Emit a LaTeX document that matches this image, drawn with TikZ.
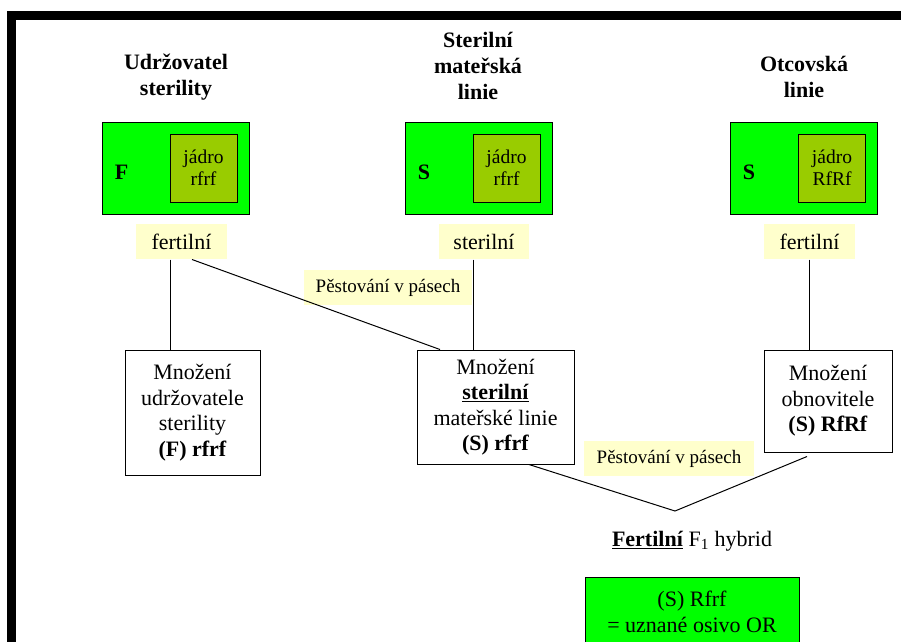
\documentclass[tikz,border=0pt]{standalone}
\usepackage{fontspec}
\setmainfont{Liberation Serif}
\usetikzlibrary{positioning,calc}
\definecolor{cyto}{HTML}{00FF00}
\definecolor{nucleus}{HTML}{99CC00}
\definecolor{tag}{HTML}{FFFFCC}

\begin{document}
\begin{tikzpicture}
  [
  x=1pt, y=-1pt,
  line width=1pt,
  font=\fontsize{22}{25.5}\selectfont,
  titlenode/.style={align=center, font=\fontsize{22}{26}\selectfont\bfseries},
  cytonode/.style={rectangle, draw=black, fill=cyto, minimum width=147pt, minimum height=92pt, inner sep=0pt},
  nucnode/.style={rectangle, draw=black, fill=nucleus, minimum width=67pt, minimum height=68pt, align=center, inner sep=0pt, font=\fontsize{19.5}{21.7}\selectfont},
  letternode/.style={font=\fontsize{22}{26}\selectfont\bfseries, inner sep=0pt},
  tagnode/.style={rectangle, fill=tag, minimum height=35pt, inner sep=0pt},
  stepnode/.style={rectangle, draw=black, align=center, inner sep=0pt},
  ]
  \useasboundingbox (0,0) rectangle (901,641);
  \draw[line width=9pt] (11.5,15.8) rectangle (930,680);

  % the three lines
  \node[titlenode] (title1) at (176,77) {Udržovatel\\sterility};
  \node[titlenode] (title2) at (478,66) {Sterilní\\mateřská\\linie};
  \node[titlenode] (title3) at (804,77) {Otcovská\\linie};

  \node[cytonode] (cyto1) at (175.5,168) {};
  \node[nucnode] (nuc1) at (203.5,168) {jádro\\rfrf};
  \node[letternode] (plasma1) at (121.7,172) {F};

  \node[cytonode] (cyto2) at (478.5,168) {};
  \node[nucnode] (nuc2) at (506.5,168) {jádro\\rfrf};
  \node[letternode] (plasma2) at (424,172) {S};

  \node[cytonode] (cyto3) at (804,168) {};
  \node[nucnode] (nuc3) at (832,168) {jádro\\RfRf};
  \node[letternode] (plasma3) at (749,172) {S};

  \node[tagnode, minimum width=91pt] (fert1) at (181.5,241.5) {fertilní};
  \node[tagnode, minimum width=90pt] (ster2) at (484,241.5) {sterilní};
  \node[tagnode, minimum width=91pt] (fert3) at (809.5,241.5) {fertilní};
  \node[tagnode, minimum width=168pt, font=\fontsize{19}{22}\selectfont] (band1) at (388,287.5) {Pěstování v pásech};

  % propagation
  \node[stepnode, minimum width=135pt, minimum height=125pt] (mult1) at (192.5,412.5)
    {Množení\\udržovatele\\sterility\\\textbf{(F) rfrf}};
  \node[stepnode, minimum width=157pt, minimum height=114pt] (mult2) at (495.5,407)
    {Množení\\\underline{\textbf{sterilní}}\\mateřské linie\\\textbf{(S) rfrf}};
  \node[stepnode, minimum width=128pt, minimum height=102pt] (mult3) at (828,401)
    {Množení\\obnovitele\\\textbf{(S) RfRf}};
  \node[tagnode, minimum width=170pt, font=\fontsize{19}{22}\selectfont] (band2) at (669,458.5) {Pěstování v pásech};

  \node (hybrid) at (692,541) {\underline{\textbf{Fertilní}} F\textsubscript{1} hybrid};
  \node[stepnode, fill=cyto, minimum width=214pt, minimum height=70pt] (seed) at (692,612)
    {(S) Rfrf\\= uznané osivo OR};

  \coordinate (drop1) at ([xshift=-11.5pt]fert1.south);
  \coordinate (drop2) at ([xshift=-11pt]ster2.south);
  \coordinate (vtip) at (675,511);
  \draw (drop1) -- (drop1 |- mult1.north);
  \draw ([xshift=10.5pt]fert1.south) -- ([xshift=-55.5pt]mult2.north);
  \draw (drop2) -- (drop2 |- mult2.north);
  \draw (fert3.south) -- (fert3.south |- mult3.north);
  \draw ([xshift=33.5pt]mult2.south) -- (vtip) -- ([xshift=-21pt,yshift=-4pt]mult3.south);
\end{tikzpicture}
\end{document}
